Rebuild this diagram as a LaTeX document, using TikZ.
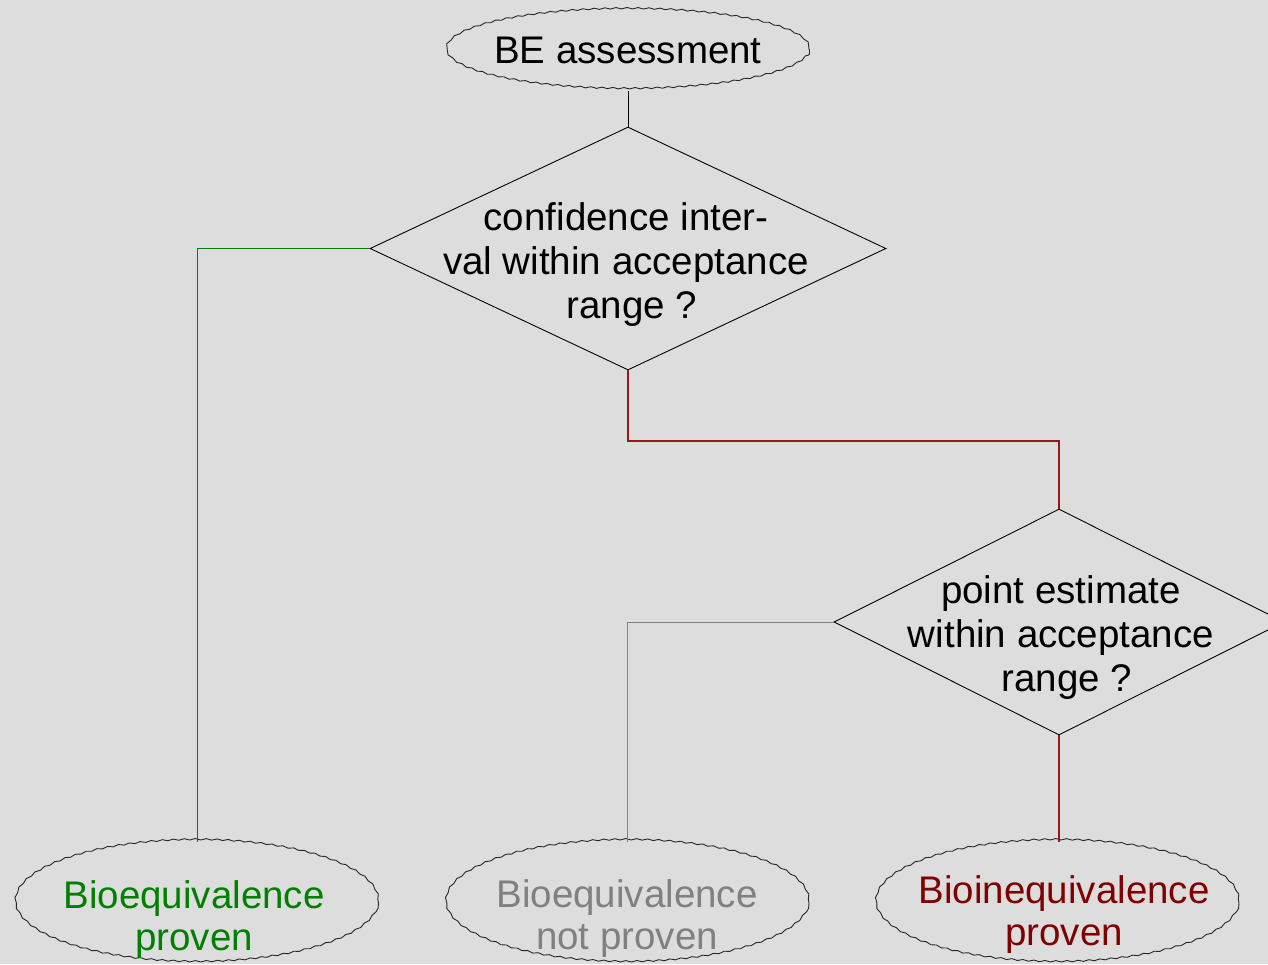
\documentclass[tikz,border=0pt]{standalone}
\usepackage{fontspec}
\setmainfont{Liberation Sans}
\usetikzlibrary{shapes.geometric,decorations.pathmorphing}
\definecolor{bg}{RGB}{221,221,221}
\definecolor{okgreen}{RGB}{0,128,0}
\definecolor{nogray}{RGB}{128,128,128}
\definecolor{badred}{RGB}{128,0,0}
\definecolor{redline}{RGB}{150,25,25}
\newcommand\mlines[1]{\begin{tabular}[t]{@{}c@{}}#1\end{tabular}}
\begin{document}
\begin{tikzpicture}[x=1pt,y=-1pt,
  cloud/.style={ellipse, draw=black!85, line width=0.9pt, inner sep=0pt,
    minimum width=363pt, decorate,
    decoration={snake, amplitude=0.7pt, segment length=11pt}},
  decision/.style={diamond, draw=black, line width=0.9pt, inner sep=0pt},
  label/.style={inner sep=0pt, anchor=base, font=\fontsize{38.5}{44}\selectfont},
  endlabel/.style={inner sep=0pt, anchor=base, font=\fontsize{38.5}{42}\selectfont},
  link/.style={line width=1pt}]
\fill[bg] (0,0) rectangle (1268,964);
\useasboundingbox (0,0) rectangle (1268,964);

\node[cloud, minimum height=80pt] (start) at (628,51) {};
\node[label] (tstart) at (628,63) {BE assessment};

\node[decision, minimum width=516pt, minimum height=243pt] (d1) at (628,248.5) {};
\node[label] (t1) at (626,230) {\mlines{confidence inter-\\val within acceptance\\\hspace*{12pt}range ?}};

\node[decision, minimum width=450pt, minimum height=226pt] (d2) at (1059,622) {};
\node[label] (t2) at (1061,603) {\mlines{point estimate\\within acceptance\\\hspace*{12pt}range ?}};

\node[cloud, minimum height=122pt] (yes) at (197,903) {};
\node[endlabel, text=okgreen] (tyes) at (194,908) {\mlines{Bioequivalence\\proven}};

\node[cloud, minimum height=122pt] (no) at (627.5,903) {};
\node[endlabel, text=nogray] (tno) at (627,907) {\mlines{Bioequivalence\\not proven}};

\node[cloud, minimum height=122pt] (bad) at (1057.5,903) {};
\node[endlabel, text=badred] (tbad) at (1064,903) {\mlines{Bioinequivalence\\proven}};

\coordinate (bend) at (628,441);
\draw[link] (start.south) -- (d1.north);
\draw[link, okgreen] (d1.west) -| (yes.north);
\draw[link, redline, line width=1.2pt] (d1.south) -- (bend) -| (d2.north);
\draw[link, nogray] (d2.west) -| (no.north);
\draw[link, redline, line width=1.2pt] (d2.south) -- (d2.south |- bad.north);
\end{tikzpicture}
\end{document}
